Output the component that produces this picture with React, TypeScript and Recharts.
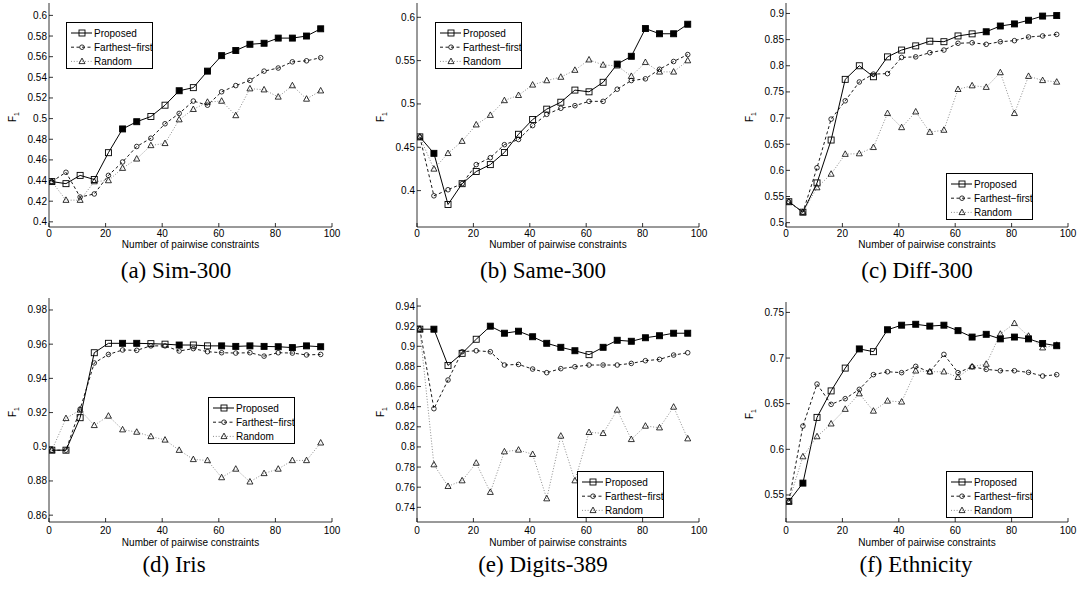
import React from 'react';
import { LineChart, Line, XAxis, YAxis, Legend } from 'recharts';

const xValues = [1, 6, 11, 16, 21, 26, 31, 36, 41, 46, 51, 56, 61, 66, 71, 76, 81, 86, 91, 96];
const xTicks = [0, 20, 40, 60, 80, 100];
const seriesNames = ['Proposed', 'Farthest\u2212first', 'Random'];

// (a) Sim-300
const simProposed = [0.439, 0.437, 0.445, 0.441, 0.467, 0.490, 0.497, 0.502, 0.513, 0.527, 0.530, 0.546, 0.561, 0.566, 0.572, 0.573, 0.578, 0.578, 0.580, 0.587];
const simFarthest = [0.439, 0.448, 0.424, 0.427, 0.445, 0.458, 0.473, 0.481, 0.495, 0.505, 0.517, 0.513, 0.526, 0.532, 0.537, 0.546, 0.549, 0.555, 0.556, 0.559];
const simRandom = [0.439, 0.421, 0.421, 0.439, 0.440, 0.452, 0.461, 0.474, 0.476, 0.499, 0.509, 0.516, 0.517, 0.503, 0.529, 0.528, 0.521, 0.532, 0.519, 0.527];
const simFilled = [26, 31, 46, 56, 61, 66, 71, 76, 81, 86, 91, 96];
const simYTicks = [0.4, 0.42, 0.44, 0.46, 0.48, 0.5, 0.52, 0.54, 0.56, 0.58, 0.6];

// (b) Same-300
const sameProposed = [0.462, 0.443, 0.384, 0.408, 0.422, 0.430, 0.444, 0.465, 0.482, 0.494, 0.502, 0.516, 0.514, 0.525, 0.546, 0.555, 0.587, 0.581, 0.581, 0.592];
const sameFarthest = [0.462, 0.394, 0.401, 0.408, 0.430, 0.438, 0.453, 0.459, 0.475, 0.488, 0.495, 0.498, 0.503, 0.503, 0.517, 0.527, 0.529, 0.540, 0.549, 0.557];
const sameRandom = [0.462, 0.425, 0.443, 0.457, 0.476, 0.487, 0.504, 0.510, 0.522, 0.527, 0.531, 0.539, 0.551, 0.545, 0.544, 0.532, 0.548, 0.537, 0.537, 0.550];
const sameFilled = [6, 71, 76, 81, 86, 91, 96];
const sameYTicks = [0.4, 0.45, 0.5, 0.55, 0.6];

// (c) Diff-300
const diffProposed = [0.540, 0.520, 0.576, 0.658, 0.774, 0.800, 0.779, 0.817, 0.830, 0.838, 0.847, 0.846, 0.857, 0.861, 0.865, 0.876, 0.880, 0.887, 0.895, 0.896];
const diffFarthest = [0.540, 0.520, 0.605, 0.698, 0.733, 0.769, 0.784, 0.785, 0.816, 0.817, 0.825, 0.830, 0.843, 0.844, 0.841, 0.846, 0.848, 0.855, 0.857, 0.860];
const diffRandom = [0.540, 0.520, 0.567, 0.593, 0.631, 0.632, 0.644, 0.709, 0.682, 0.712, 0.673, 0.677, 0.755, 0.762, 0.759, 0.787, 0.709, 0.780, 0.772, 0.769];
const diffFilled = [71, 76, 81, 86, 91, 96];
const diffYTicks = [0.5, 0.55, 0.6, 0.65, 0.7, 0.75, 0.8, 0.85, 0.9];

// (d) Iris
const irisProposed = [0.898, 0.898, 0.917, 0.955, 0.9605, 0.9605, 0.9605, 0.9603, 0.960, 0.9595, 0.9595, 0.959, 0.959, 0.9587, 0.959, 0.9587, 0.9585, 0.958, 0.959, 0.9585];
const irisFarthest = [0.898, 0.898, 0.922, 0.949, 0.954, 0.9566, 0.9564, 0.959, 0.959, 0.956, 0.9574, 0.9556, 0.955, 0.9548, 0.955, 0.953, 0.955, 0.9548, 0.9537, 0.954];
const irisRandom = [0.898, 0.9166, 0.9215, 0.9125, 0.918, 0.910, 0.9086, 0.906, 0.904, 0.898, 0.8926, 0.892, 0.882, 0.887, 0.8795, 0.8844, 0.887, 0.892, 0.892, 0.9023];
const irisFilled = [26, 31, 46, 61, 66, 71, 76, 81, 86, 91, 96];
const irisYTicks = [0.86, 0.88, 0.9, 0.92, 0.94, 0.96, 0.98];

// (e) Digits-389
const digitsProposed = [0.917, 0.917, 0.881, 0.893, 0.907, 0.920, 0.913, 0.915, 0.9095, 0.903, 0.899, 0.8956, 0.8917, 0.899, 0.906, 0.905, 0.9085, 0.9105, 0.913, 0.913];
const digitsFarthest = [0.917, 0.838, 0.8665, 0.8946, 0.8956, 0.8946, 0.8814, 0.882, 0.8774, 0.8738, 0.8778, 0.8797, 0.8814, 0.8814, 0.8814, 0.883, 0.8857, 0.887, 0.8913, 0.8936];
const digitsRandom = [0.917, 0.7824, 0.7609, 0.7665, 0.784, 0.755, 0.7953, 0.797, 0.7927, 0.7486, 0.8109, 0.7665, 0.8145, 0.8135, 0.8367, 0.8075, 0.8208, 0.8191, 0.8397, 0.8082];
const digitsFilled = [6, 26, 31, 36, 41, 46, 51, 56, 66, 71, 76, 81, 86, 91, 96];
const digitsYTicks = [0.74, 0.76, 0.78, 0.8, 0.82, 0.84, 0.86, 0.88, 0.9, 0.92, 0.94];

// (f) Ethnicity
const ethProposed = [0.543, 0.563, 0.635, 0.664, 0.689, 0.710, 0.707, 0.731, 0.736, 0.737, 0.735, 0.736, 0.730, 0.723, 0.726, 0.721, 0.723, 0.721, 0.716, 0.7135];
const ethFarthest = [0.543, 0.6255, 0.6715, 0.6493, 0.6555, 0.6657, 0.6818, 0.685, 0.684, 0.6909, 0.6847, 0.704, 0.684, 0.6905, 0.6876, 0.6861, 0.6861, 0.6843, 0.6803, 0.6818];
const ethRandom = [0.543, 0.592, 0.614, 0.628, 0.644, 0.661, 0.642, 0.653, 0.652, 0.686, 0.685, 0.685, 0.679, 0.6905, 0.6934, 0.7263, 0.738, 0.7241, 0.7113, 0.7142];
const ethFilled = [6, 26, 36, 41, 46, 51, 56, 61, 66, 71, 76, 81, 86, 91, 96];
const ethYTicks = [0.55, 0.6, 0.65, 0.7, 0.75];

const FONT = '"Liberation Sans", Arial, Helvetica, sans-serif';
const SERIF = '"Liberation Serif", "Times New Roman", serif';

function buildRows(p: number[], f: number[], r: number[], filled: number[]) {
  return xValues.map((x, i) => ({ x, p: p[i], f: f[i], r: r[i], filled: filled.includes(x) }));
}

type Cfg = {
  caption: string; capX: number; capY: number;
  px: number; py: number; pw: number; ph: number;
  domain: [number, number]; yTicks: number[]; rows: any[];
  labX: number; titleY: number; xMargin: number;
  leg: { x: number; y: number };
};

const panels: Cfg[] = [
  { caption: '(a) Sim-300', capX: 176, capY: 278, px: 49, py: 3, pw: 283, ph: 224, domain: [0.395, 0.612], yTicks: simYTicks, rows: buildRows(simProposed, simFarthest, simRandom, simFilled), labX: 16, titleY: 247.5, xMargin: 3, leg: { x: 66, y: 22 } },
  { caption: '(b) Same-300', capX: 543, capY: 278, px: 417, py: 3, pw: 282, ph: 224, domain: [0.358, 0.6165], yTicks: sameYTicks, rows: buildRows(sameProposed, sameFarthest, sameRandom, sameFilled), labX: 384, titleY: 247.5, xMargin: 3, leg: { x: 435, y: 22 } },
  { caption: '(c) Diff-300', capX: 917, capY: 278, px: 786, py: 3, pw: 282, ph: 224, domain: [0.4917, 0.92], yTicks: diffYTicks, rows: buildRows(diffProposed, diffFarthest, diffRandom, diffFilled), labX: 753, titleY: 247.5, xMargin: 3, leg: { x: 946, y: 173 } },
  { caption: '(d) Iris', capX: 174, capY: 572, px: 49, py: 298, pw: 283, ph: 224, domain: [0.856, 0.987], yTicks: irisYTicks, rows: buildRows(irisProposed, irisFarthest, irisRandom, irisFilled), labX: 16, titleY: 545.5, xMargin: 4.5, leg: { x: 208, y: 397 } },
  { caption: '(e) Digits-389', capX: 543, capY: 572, px: 417, py: 298, pw: 282, ph: 224, domain: [0.7254, 0.948], yTicks: digitsYTicks, rows: buildRows(digitsProposed, digitsFarthest, digitsRandom, digitsFilled), labX: 384, titleY: 545.5, xMargin: 4.5, leg: { x: 577, y: 471 } },
  { caption: '(f) Ethnicity', capX: 916, capY: 572, px: 786, py: 302, pw: 282, ph: 220, domain: [0.5204, 0.7614], yTicks: ethYTicks, rows: buildRows(ethProposed, ethFarthest, ethRandom, ethFilled), labX: 753, titleY: 545.5, xMargin: 4.5, leg: { x: 946, y: 471 } },
];

const fmt = (v: number) => String(Math.round(v * 100) / 100);

function Marker({ shape, cx, cy, filled }: { shape: string; cx: number; cy: number; filled?: boolean }) {
  if (shape === 'square') {
    return <rect x={cx - 3} y={cy - 3} width={6} height={6} fill={filled ? '#000' : 'none'} stroke="#000" strokeWidth={0.9} />;
  }
  if (shape === 'circle') {
    return <circle cx={cx} cy={cy} r={2.3} fill="none" stroke="#000" strokeWidth={0.8} />;
  }
  return <polygon points={`${cx},${cy - 3.3} ${cx - 3},${cy + 2.2} ${cx + 3},${cy + 2.2}`} fill="none" stroke="#000" strokeWidth={0.8} />;
}

const seriesStyle: Record<string, any> = {
  p: { shape: 'square', stroke: '#000', width: 1, dash: undefined },
  f: { shape: 'circle', stroke: '#000', width: 0.9, dash: '3 2.5' },
  r: { shape: 'triangle', stroke: '#808080', width: 0.9, dash: '1 1.8' },
};
const legendOrder = ['p', 'f', 'r'];

const renderLegend = (props: any) => {
  const items = [...(props.payload || [])].sort(
    (a: any, b: any) => legendOrder.indexOf(a.dataKey) - legendOrder.indexOf(b.dataKey)
  );
  return (
    <svg width={87} height={47} style={{ display: 'block', overflow: 'visible' }}>
      <rect x={0.5} y={0.5} width={86} height={46} fill="#fff" stroke="#000" strokeWidth={1} />
      {items.map((it: any, i: number) => {
        const st = seriesStyle[it.dataKey];
        const y = 11 + i * 14.2;
        return (
          <g key={it.dataKey}>
            <line x1={5} x2={26} y1={y} y2={y} stroke={st.stroke} strokeWidth={st.width} strokeDasharray={st.dash} />
            <Marker shape={st.shape} cx={16} cy={y} filled={false} />
            <text x={28} y={y + 3.6} fontSize={10} fontFamily={FONT} fill="#000">{it.value}</text>
          </g>
        );
      })}
    </svg>
  );
};

function Panel({ cfg }: { cfg: Cfg }) {
  const ML = 45, MT = 8, MR = 10, MB = 30;
  const left = cfg.px - ML;
  const top = cfg.py - MT;
  const width = cfg.pw + ML + MR;
  const height = cfg.ph + MT + MB;
  const xm = cfg.xMargin;

  const YTick = (props: any) => {
    const { x, y, payload } = props;
    const ax = x + 2;
    return (
      <g>
        <line x1={ax} x2={ax + 4} y1={y} y2={y} stroke="#000" strokeWidth={0.8} />
        <text x={x} y={y} dy="0.35em" textAnchor="end" fontSize={10} fontFamily={FONT} fill="#000">{fmt(payload.value)}</text>
      </g>
    );
  };
  const XTick = (props: any) => {
    const { x, y, payload } = props;
    const ay = y - xm;
    return (
      <g>
        <line x1={x} x2={x} y1={ay} y2={ay - 4} stroke="#000" strokeWidth={0.8} />
        <text x={x} y={y} dy="0.71em" textAnchor="middle" fontSize={10} fontFamily={FONT} fill="#000">{payload.value}</text>
      </g>
    );
  };

  const dotFor = (key: string) => (p: any) => {
    if (p.cx == null || p.cy == null) return <g key={`${key}${p.index}`} />;
    return (
      <g key={`${key}${p.index}`}>
        <Marker shape={seriesStyle[key].shape} cx={p.cx} cy={p.cy} filled={key === 'p' && p.payload.filled} />
      </g>
    );
  };

  return (
    <div style={{ position: 'absolute', left, top, width, height }}>
      <LineChart width={width} height={height} data={cfg.rows} margin={{ top: MT, right: MR, left: 0, bottom: 0 }}>
        <XAxis type="number" dataKey="x" domain={[0, 100]} ticks={xTicks} interval={0} height={MB} tickSize={0} tickMargin={xm}
          tick={XTick} axisLine={{ stroke: '#000', strokeWidth: 0.8 }} tickLine={false} allowDataOverflow />
        <YAxis type="number" domain={cfg.domain} ticks={cfg.yTicks} interval={0} width={ML} tickSize={0} tickMargin={2}
          tick={YTick} axisLine={{ stroke: '#000', strokeWidth: 0.8 }} tickLine={false} allowDataOverflow />
        <Legend layout="horizontal" verticalAlign="middle" align="center" content={renderLegend}
          wrapperStyle={{ left: cfg.leg.x - left, top: cfg.leg.y - top, width: 87, height: 47 }} />
        <Line dataKey="p" name={seriesNames[0]} stroke="#000" strokeWidth={1} dot={dotFor('p')} activeDot={false} isAnimationActive={false} />
        <Line dataKey="f" name={seriesNames[1]} stroke="#000" strokeWidth={0.9} strokeDasharray="3 2.5" dot={dotFor('f')} activeDot={false} isAnimationActive={false} />
        <Line dataKey="r" name={seriesNames[2]} stroke="#808080" strokeWidth={0.9} strokeDasharray="1 1.8" dot={dotFor('r')} activeDot={false} isAnimationActive={false} />
      </LineChart>
    </div>
  );
}

export default function App() {
  return (
    <div style={{ position: 'absolute', left: 0, top: 0, width: 1078, height: 590, background: '#fff', overflow: 'hidden' }}>
      {panels.map((cfg, i) => <Panel key={i} cfg={cfg} />)}
      <svg width={1078} height={590} style={{ position: 'absolute', left: 0, top: 0, pointerEvents: 'none' }}>
        {panels.map((cfg, i) => {
          const cy = cfg.py + cfg.ph / 2 + 2;
          return (
            <g key={i}>
              <text x={cfg.px + cfg.pw / 2} y={cfg.titleY} textAnchor="middle" fontSize={10} fontFamily={FONT} fill="#000">Number of pairwise constraints</text>
              <text transform={`translate(${cfg.labX},${cy}) rotate(-90)`} textAnchor="middle" fontSize={10} fontFamily={FONT} fill="#000">
                F<tspan fontSize={7} dy={3}>1</tspan>
              </text>
              <text x={cfg.capX} y={cfg.capY} textAnchor="middle" fontSize={23} fontFamily={SERIF} fill="#000">{cfg.caption}</text>
            </g>
          );
        })}
      </svg>
    </div>
  );
}
